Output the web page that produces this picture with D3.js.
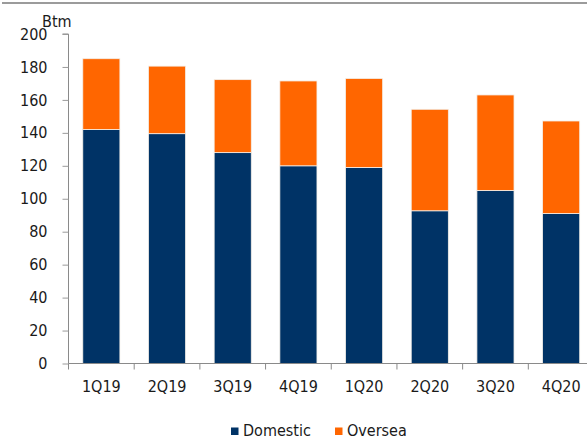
<!DOCTYPE html>
<html>
<head>
<meta charset="utf-8">
<script src="https://cdn.jsdelivr.net/npm/d3@7"></script>
<style>
  html, body { margin: 0; padding: 0; background: #fff; }
  svg { display: block; }
</style>
</head>
<body>
<svg id="chart" width="587" height="439"></svg>
<script>
const categories = ["1Q19", "2Q19", "3Q19", "4Q19", "1Q20", "2Q20", "3Q20", "4Q20"];
const domestic = [142, 139.5, 128, 120, 119, 92.7, 105, 91];
const oversea = [43, 41, 44.3, 51.5, 54, 61.6, 58, 56.2];
const yTicks = [0, 20, 40, 60, 80, 100, 120, 140, 160, 180, 200];
const seriesNames = ["Domestic", "Oversea"];
const seriesColors = ["#003366", "#FF6600"];
const unitLabel = "Btm";

(function () {
const svg = d3.select("#chart");
const W = 587, H = 439;
const mLeft = 68.5, mRight = 594, mTop = 34, mBottom = 363.5;
const font = "'DejaVu Sans Condensed', 'DejaVu Sans', sans-serif";

// top rule
svg.append("line").attr("x1", 2).attr("x2", W).attr("y1", 3).attr("y2", 3)
  .attr("stroke", "#7a7a7a").attr("stroke-width", 1.6);

const x = d3.scaleBand().domain(categories).range([mLeft, mRight])
  .paddingInner(0.435).paddingOuter(0.2175);
const y = d3.scaleLinear().domain([0, 200]).range([mBottom, mTop]);

const rows = categories.map((c, i) => ({ cat: c, Domestic: domestic[i], Oversea: oversea[i] }));
const stack = d3.stack().keys(seriesNames)(rows);
const color = d3.scaleOrdinal().domain(seriesNames).range(seriesColors);

svg.append("g").selectAll("g").data(stack).join("g")
  .attr("fill", d => color(d.key))
  .selectAll("rect").data(d => d).join("rect")
  .attr("x", d => x(d.data.cat))
  .attr("width", x.bandwidth())
  .attr("y", d => y(d[1]))
  .attr("height", d => y(d[0]) - y(d[1]))
  .attr("stroke", "#f4f0ea").attr("stroke-width", 0.8);

// y axis
const yAxis = svg.append("g").attr("transform", `translate(${mLeft},0)`)
  .call(d3.axisLeft(y).tickValues(yTicks).tickSize(6).tickPadding(15));
yAxis.select(".domain").attr("stroke", "#8a8a8a").attr("d", `M-6,${mTop}H0V${mBottom}`);
yAxis.selectAll(".tick line").attr("stroke", "#9a9a9a");
yAxis.selectAll(".tick text").attr("font-family", font).attr("font-size", 16).attr("fill", "#1a1a1a");

// x axis
const xAxis = svg.append("g").attr("transform", `translate(0,${mBottom})`)
  .call(d3.axisBottom(x).tickSize(0).tickPadding(17.5));
xAxis.select(".domain").attr("stroke", "#8a8a8a").attr("d", `M${mLeft},0H${W}`);
xAxis.selectAll(".tick text").attr("font-family", font).attr("font-size", 16).attr("fill", "#1a1a1a");
// boundary ticks
const bounds = categories.map(c => x(c) - x.step() * x.paddingInner() / 2);
xAxis.append("g").selectAll("line").data(bounds).join("line")
  .attr("x1", d => d).attr("x2", d => d).attr("y1", 0).attr("y2", 6)
  .attr("stroke", "#8a8a8a");

// unit label
svg.append("text").attr("x", 42).attr("y", 27).text(unitLabel)
  .attr("font-family", font).attr("font-size", 16).attr("fill", "#1a1a1a");

// legend
const legendX = [231, 335];
const lg = svg.append("g").selectAll("g").data(seriesNames).join("g")
  .attr("transform", (d, i) => `translate(${legendX[i]},0)`);
lg.append("rect").attr("x", 0).attr("y", 427.5).attr("width", 7.5).attr("height", 7.5)
  .attr("fill", d => color(d));
lg.append("text").attr("x", 12).attr("y", 436).text(d => d)
  .attr("font-family", font).attr("font-size", 16).attr("fill", "#1a1a1a");
})();
</script>
</body>
</html>
